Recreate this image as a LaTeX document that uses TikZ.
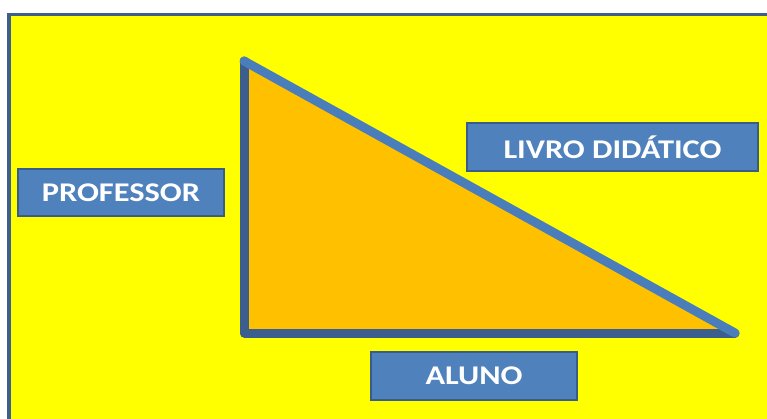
\documentclass[tikz,border=0pt]{standalone}
\usepackage{fontspec}
\setmainfont{Carlito}
\usepackage{graphicx}
\definecolor{framecol}{HTML}{3E5F8A}
\definecolor{boxfill}{HTML}{4F81BD}
\definecolor{boxline}{HTML}{385D8A}
\definecolor{darkline}{HTML}{3B5E8C}
\definecolor{lightline}{HTML}{4A7EBB}
\definecolor{orangefill}{HTML}{FFC000}
\definecolor{bgyellow}{HTML}{FFFF00}
\tikzset{
  labelbox/.style={draw=boxline, line width=2pt, fill=boxfill, text=white,
    inner sep=0pt, font=\fontsize{27}{30}\selectfont\bfseries}
}
\newcommand{\wide}[1]{\scalebox{1.2}[1]{#1}}
\begin{document}
\begin{tikzpicture}[x=1pt,y=-1pt]
\useasboundingbox (0,0) rectangle (767,419);
\fill[white] (0,0) rectangle (767,419);
\draw[line width=3.5pt, draw=framecol, fill=bgyellow] (8.75,14.5) rectangle (772,425);
\coordinate (A) at (244,61);
\coordinate (B) at (244,333);
\coordinate (C) at (735,333);
\fill[orangefill] (A) -- (B) -- (C) -- cycle;
\draw[darkline, line width=9pt, line cap=round, line join=round] (A) -- (B) -- (C);
\draw[lightline, line width=9pt, line cap=round] (A) -- (C);
\node[labelbox, minimum width=206pt, minimum height=47pt] (prof) at (121,192.5) {\wide{PROFESSOR}};
\node[labelbox, minimum width=291pt, minimum height=48pt] (livro) at (612.5,147) {\wide{LIVRO DIDÁTICO}};
\node[labelbox, minimum width=206pt, minimum height=48pt] (aluno) at (474,376) {\wide{ALUNO}};
\end{tikzpicture}
\end{document}
